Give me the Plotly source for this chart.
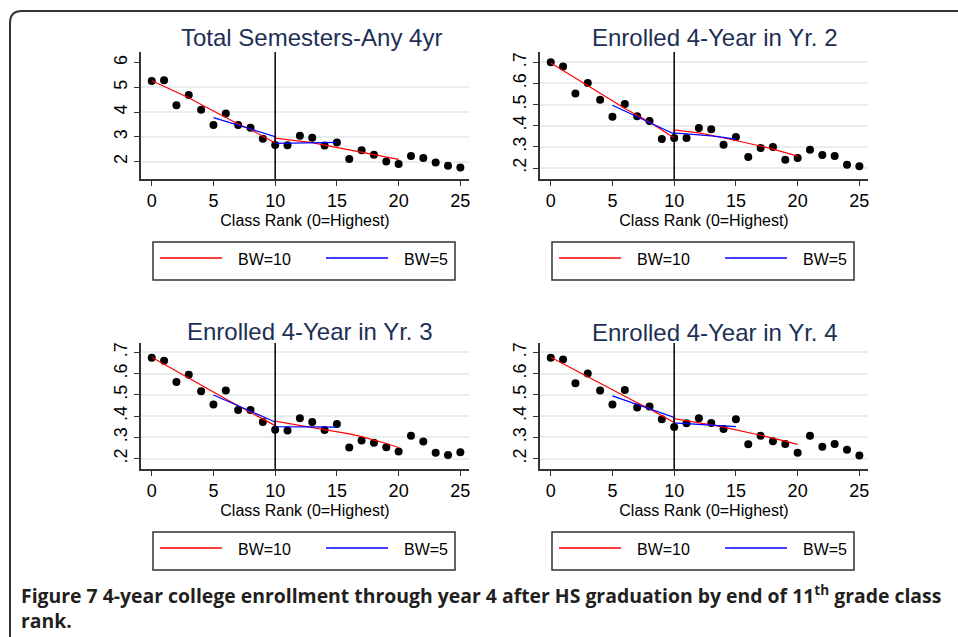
import plotly.graph_objects as go
from plotly.subplots import make_subplots

# class rank of each binned mean (0 = highest)
rank = list(range(26))

# binned means, one list per outcome
sem_pts = [5.26, 5.29, 4.28, 4.69, 4.10, 3.48, 3.95, 3.48, 3.37, 2.93, 2.67, 2.66, 3.05,
           2.97, 2.65, 2.77, 2.11, 2.46, 2.28, 2.01, 1.91, 2.23, 2.15, 1.97, 1.84, 1.76]
yr2_pts = [0.700, 0.680, 0.553, 0.602, 0.523, 0.443, 0.503, 0.445, 0.422, 0.337, 0.342, 0.342, 0.389,
           0.383, 0.310, 0.347, 0.252, 0.295, 0.300, 0.239, 0.247, 0.287, 0.262, 0.257, 0.216, 0.208]
yr3_pts = [0.675, 0.661, 0.560, 0.595, 0.517, 0.454, 0.521, 0.429, 0.429, 0.372, 0.336, 0.332, 0.390,
           0.372, 0.335, 0.363, 0.252, 0.285, 0.274, 0.253, 0.233, 0.308, 0.281, 0.227, 0.217, 0.230]
yr4_pts = [0.675, 0.666, 0.554, 0.600, 0.521, 0.454, 0.523, 0.440, 0.445, 0.385, 0.349, 0.366, 0.390,
           0.368, 0.339, 0.385, 0.267, 0.307, 0.282, 0.269, 0.228, 0.308, 0.256, 0.269, 0.242, 0.214]

# local linear fits, left side then right side of the cutoff at rank 10
bw10_rank = list(range(0, 11)) + list(range(10, 21))
bw5_rank = list(range(5, 11)) + list(range(10, 16))

sem_bw10 = [5.27, 5.05, 4.83, 4.58, 4.31, 4.04, 3.77, 3.52, 3.30, 3.03, 2.75,
            2.95, 2.90, 2.85, 2.77, 2.67, 2.57, 2.47, 2.38, 2.30, 2.20, 2.09]
sem_bw5 = [3.78, 3.63, 3.48, 3.33, 3.17, 3.01,
           2.74, 2.75, 2.76, 2.77, 2.77, 2.78]

yr2_bw10 = [0.697, 0.662, 0.627, 0.592, 0.556, 0.518, 0.482, 0.449, 0.418, 0.380, 0.342,
            0.380, 0.374, 0.366, 0.355, 0.343, 0.331, 0.318, 0.304, 0.289, 0.273, 0.256]
yr2_bw5 = [0.497, 0.470, 0.443, 0.416, 0.389, 0.361,
           0.366, 0.362, 0.357, 0.352, 0.345, 0.337]

yr3_bw10 = [0.677, 0.645, 0.613, 0.580, 0.547, 0.513, 0.480, 0.449, 0.418, 0.386, 0.355,
            0.376, 0.366, 0.356, 0.347, 0.338, 0.328, 0.316, 0.303, 0.288, 0.271, 0.252]
yr3_bw5 = [0.499, 0.474, 0.449, 0.423, 0.398, 0.372,
           0.350, 0.350, 0.349, 0.349, 0.348, 0.348]

yr4_bw10 = [0.677, 0.646, 0.615, 0.584, 0.553, 0.522, 0.492, 0.463, 0.434, 0.402, 0.370,
            0.388, 0.379, 0.369, 0.359, 0.348, 0.336, 0.323, 0.310, 0.296, 0.282, 0.267]
yr4_bw5 = [0.495, 0.475, 0.455, 0.435, 0.414, 0.394,
           0.368, 0.365, 0.361, 0.358, 0.354, 0.350]

titles = ["Total Semesters-Any 4yr", "Enrolled 4-Year in Yr. 2",
          "Enrolled 4-Year in Yr. 3", "Enrolled 4-Year in Yr. 4"]
x_ticks = [0, 5, 10, 15, 20, 25]
sem_ticks = [2, 3, 4, 5, 6]
sem_grid = [2, 3, 4, 5]  # no gridline at the top tick in this panel
share_ticks = [0.2, 0.3, 0.4, 0.5, 0.6, 0.7]
share_labels = [".2", ".3", ".4", ".5", ".6", ".7"]
cutoff = 10

panels = [
    (sem_pts, sem_bw10, sem_bw5, [1.3, 6.43], sem_ticks, [str(t) for t in sem_ticks], sem_grid),
    (yr2_pts, yr2_bw10, yr2_bw5, [0.148, 0.749], share_ticks, share_labels, share_ticks),
    (yr3_pts, yr3_bw10, yr3_bw5, [0.151, 0.744], share_ticks, share_labels, share_ticks),
    (yr4_pts, yr4_bw10, yr4_bw5, [0.151, 0.744], share_ticks, share_labels, share_ticks),
]

W, H = 958, 637
FONT = "Liberation Sans, Arial, Helvetica, sans-serif"
AXIS_COL = "#333333"
GRID_COL = "#e6eef0"
RED, BLUE = "#ff0000", "#0000ff"

fig = make_subplots(rows=2, cols=2)

# pixel boxes of each plot region (left, right, top, bottom)
boxes = [(141, 469, 52, 179), (540, 868, 52, 179),
         (141, 469, 343, 469), (540, 868, 343, 469)]
title_pos = [(311, 37), (715, 37), (310, 331), (715, 332)]
# top-left corner of each legend box
legend_pos = [(153, 242), (552, 242), (153, 532), (552, 532)]


def px(x):
    return x / W


def py(y):
    return 1 - y / H


def draw_legend(bx, by):
    # boxed key below each panel: red BW=10, blue BW=5
    fig.add_shape(type="rect", xref="paper", yref="paper",
                  x0=px(bx), x1=px(bx + 302), y0=py(by + 38), y1=py(by),
                  line=dict(color="#333333", width=1.5), fillcolor="white")
    for dx, col, label in [(7, RED, "BW=10"), (173, BLUE, "BW=5")]:
        fig.add_shape(type="line", xref="paper", yref="paper",
                      x0=px(bx + dx), x1=px(bx + dx + 62), y0=py(by + 16), y1=py(by + 16),
                      line=dict(color=col, width=1.3))
        fig.add_annotation(text=label, x=px(bx + dx + 76), y=py(by + 17),
                           xref="paper", yref="paper", showarrow=False,
                           xanchor="left", yanchor="middle",
                           font=dict(size=16, color="black", family=FONT))


for i, (pts, bw10, bw5, yrange, yticks, ylabels, ygrid) in enumerate(panels):
    row, col = i // 2 + 1, i % 2 + 1

    fig.add_trace(go.Scatter(x=rank, y=pts, mode="markers",
                             marker=dict(color="black", size=8),
                             showlegend=False, hoverinfo="x+y"), row=row, col=col)
    fig.add_trace(go.Scatter(x=bw10_rank, y=bw10, mode="lines", name="BW=10",
                             line=dict(color=RED, width=1.2),
                             showlegend=False), row=row, col=col)
    fig.add_trace(go.Scatter(x=bw5_rank, y=bw5, mode="lines", name="BW=5",
                             line=dict(color=BLUE, width=1.2),
                             showlegend=False), row=row, col=col)
    fig.add_vline(x=cutoff, line=dict(color="black", width=1.5), row=row, col=col)

    l, r, t, b = boxes[i]
    fig.update_xaxes(domain=[px(l), px(r)], range=[-0.87, 25.7],
                     tickvals=x_ticks, ticks="outside", ticklen=5, tickcolor=AXIS_COL,
                     showline=True, linecolor=AXIS_COL, linewidth=1.5, showgrid=False,
                     zeroline=False, tickfont=dict(size=18, color="black", family=FONT),
                     title=dict(text="Class Rank (0=Highest)", standoff=4,
                                font=dict(size=16, color="black", family=FONT)),
                     row=row, col=col)
    fig.update_yaxes(domain=[py(b), py(t)], range=yrange,
                     tickvals=yticks, ticktext=ylabels, tickangle=-90,
                     ticks="outside", ticklen=5, tickcolor=AXIS_COL,
                     showline=True, linecolor=AXIS_COL, linewidth=1.5,
                     showgrid=False, zeroline=False,
                     minor=dict(tickvals=ygrid, showgrid=True, gridcolor=GRID_COL,
                                gridwidth=1.5, ticks=""),
                     tickfont=dict(size=18, color="black", family=FONT),
                     row=row, col=col)

    tx, ty = title_pos[i]
    fig.add_annotation(text=titles[i], x=px(tx), y=py(ty), xref="paper", yref="paper",
                       showarrow=False, xanchor="center", yanchor="middle",
                       font=dict(size=24, color="#1e2f55", family=FONT))

    draw_legend(*legend_pos[i])

# figure caption, two lines in one text block
cap_font = dict(size=19.4, color="#231f20", family="Open Sans, Noto Sans, sans-serif")
fig.add_annotation(text="<b>Figure 7 4-year college enrollment through year 4 after HS "
                        "graduation by end of 11<sup>th</sup> grade class<br>rank.</b>",
                   x=px(19), y=py(607), xref="paper", yref="paper", showarrow=False,
                   xanchor="left", yanchor="middle", align="left", font=cap_font)

# rounded outer frame of the figure page
x0, y0, rx, ry = px(10), py(11), 12 / W, 12 / H
fig.add_shape(type="path", xref="paper", yref="paper",
              path=f"M {x0},-0.1 L {x0},{y0 - ry} Q {x0},{y0} {x0 + rx},{y0} L 1.1,{y0}",
              line=dict(color="#333333", width=2))

fig.update_layout(width=W, height=H, margin=dict(l=0, r=0, t=0, b=0),
                  paper_bgcolor="white", plot_bgcolor="white",
                  font=dict(family=FONT), showlegend=False)

# drop the default page margin so the figure sits at the window corner
fig.write_html("out.html", config={"displayModeBar": False},
               post_script="document.body.style.margin='0px';")
